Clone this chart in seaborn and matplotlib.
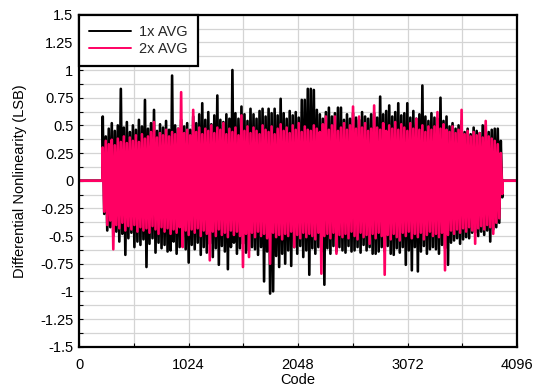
import numpy as np
import pandas as pd
import matplotlib
matplotlib.use("Agg")
import matplotlib.pyplot as plt
import seaborn as sns
from matplotlib.ticker import MultipleLocator, FixedLocator

# ---------------- data ----------------
series_names = ["1x AVG", "2x AVG"]
series_colors = ["#000000", "#FF0063"]

code_first = 222      # first active code
code_step = 28.2      # code spacing between envelope columns
flat_lead_codes = [0, 218]
flat_tail_codes = [3962, 4096]

# 1x AVG: positive and negative excursions per column
black_top = [0.58, 0.40, 0.47, 0.52, 0.45, 0.50, 0.83, 0.48, 0.53, 0.44,
             0.50, 0.46, 0.55, 0.49, 0.73, 0.47, 0.52, 0.64, 0.45, 0.51,
             0.48, 0.54, 0.46, 0.95, 0.50, 0.47, 0.55, 0.49, 0.52, 0.46,
             0.58, 0.52, 0.60, 0.70, 0.55, 0.62, 0.51, 0.59, 0.77, 0.55,
             0.53, 0.60, 0.56, 1.00, 0.61, 0.56, 0.67, 0.60, 0.54, 0.65,
             0.60, 0.56, 0.63, 0.65, 0.58, 0.65, 0.61, 0.65, 0.59, 0.74,
             0.61, 0.56, 0.63, 0.59, 0.62, 0.57, 0.73, 0.73, 0.83, 0.83,
             0.82, 0.64, 0.60, 0.56, 0.62, 0.66, 0.58, 0.61, 0.66, 0.66,
             0.55, 0.60, 0.56, 0.61, 0.57, 0.55, 0.62, 0.58, 0.56, 0.60,
             0.61, 0.57, 0.76, 0.60, 0.63, 0.68, 0.58, 0.62, 0.70, 0.59,
             0.61, 0.70, 0.57, 0.63, 0.56, 0.60, 0.86, 0.58, 0.54, 0.61,
             0.57, 0.56, 0.75, 0.54, 0.58, 0.49, 0.52, 0.47, 0.50, 0.54,
             0.44, 0.47, 0.42, 0.48, 0.45, 0.43, 0.50, 0.50, 0.44, 0.46,
             0.47, 0.47, 0.36]
black_bot = [-0.30, -0.45, -0.42, -0.50, -0.46, -0.55, -0.48, -0.67, -0.52, -0.47,
             -0.60, -0.55, -0.58, -0.53, -0.78, -0.57, -0.52, -0.65, -0.56, -0.61,
             -0.58, -0.64, -0.63, -0.55, -0.66, -0.60, -0.54, -0.62, -0.74, -0.58,
             -0.62, -0.56, -0.67, -0.60, -0.65, -0.57, -0.69, -0.61, -0.76, -0.59,
             -0.64, -0.80, -0.60, -0.56, -0.66, -0.61, -0.57, -0.65, -0.63, -0.60,
             -0.62, -0.67, -0.60, -0.91, -0.64, -1.02, -1.00, -0.68, -0.78, -0.66,
             -0.75, -0.63, -0.77, -0.60, -0.66, -0.59, -0.69, -0.63, -0.85, -0.61,
             -0.66, -0.60, -0.64, -0.94, -0.61, -0.66, -0.59, -0.64, -0.60, -0.63,
             -0.65, -0.59, -0.64, -0.63, -0.60, -0.65, -0.58, -0.63, -0.60, -0.66,
             -0.66, -0.64, -0.60, -0.64, -0.59, -0.66, -0.67, -0.61, -0.65, -0.60,
             -0.76, -0.63, -0.81, -0.60, -0.82, -0.64, -0.59, -0.66, -0.62, -0.60,
             -0.62, -0.66, -0.58, -0.61, -0.76, -0.56, -0.54, -0.52, -0.57, -0.53,
             -0.51, -0.52, -0.47, -0.47, -0.50, -0.46, -0.49, -0.45, -0.55, -0.44,
             -0.42, -0.38, -0.15]

# 2x AVG: positive and negative excursions per column
pink_top = [0.30, 0.36, 0.33, 0.37, 0.32, 0.38, 0.35, 0.40, 0.34, 0.39,
            0.36, 0.41, 0.35, 0.42, 0.38, 0.40, 0.44, 0.53, 0.39, 0.43,
            0.41, 0.46, 0.40, 0.44, 0.42, 0.47, 0.80, 0.43, 0.46, 0.41,
            0.64, 0.44, 0.48, 0.42, 0.47, 0.45, 0.50, 0.43, 0.48, 0.46,
            0.52, 0.42, 0.47, 0.44, 0.48, 0.41, 0.59, 0.45, 0.49, 0.43,
            0.48, 0.45, 0.42, 0.50, 0.46, 0.44, 0.49, 0.42, 0.47, 0.51,
            0.45, 0.48, 0.43, 0.50, 0.46, 0.52, 0.44, 0.49, 0.46, 0.45,
            0.50, 0.47, 0.44, 0.51, 0.58, 0.46, 0.50, 0.58, 0.45, 0.48,
            0.52, 0.46, 0.50, 0.67, 0.47, 0.58, 0.48, 0.52, 0.45, 0.47,
            0.68, 0.48, 0.46, 0.52, 0.45, 0.50, 0.47, 0.53, 0.46, 0.51,
            0.48, 0.45, 0.52, 0.47, 0.56, 0.46, 0.50, 0.44, 0.49, 0.46,
            0.49, 0.62, 0.47, 0.51, 0.46, 0.44, 0.49, 0.43, 0.46, 0.64,
            0.42, 0.45, 0.40, 0.44, 0.41, 0.43, 0.39, 0.54, 0.40, 0.38,
            0.36, 0.33, 0.25]
pink_bot = [-0.28, -0.40, -0.36, -0.62, -0.40, -0.43, -0.38, -0.45, -0.41, -0.44,
            -0.40, -0.46, -0.42, -0.45, -0.43, -0.47, -0.41, -0.44, -0.48, -0.42,
            -0.46, -0.43, -0.48, -0.44, -0.47, -0.42, -0.60, -0.45, -0.49, -0.44,
            -0.47, -0.43, -0.50, -0.45, -0.48, -0.72, -0.46, -0.50, -0.44, -0.49,
            -0.47, -0.51, -0.45, -0.49, -0.46, -0.50, -0.78, -0.48, -0.69, -0.47,
            -0.51, -0.46, -0.50, -0.48, -0.52, -0.75, -0.47, -0.51, -0.49, -0.53,
            -0.48, -0.50, -0.46, -0.60, -0.49, -0.52, -0.47, -0.51, -0.48, -0.50,
            -0.53, -0.47, -0.84, -0.50, -0.48, -0.52, -0.47, -0.66, -0.49, -0.51,
            -0.48, -0.52, -0.46, -0.50, -0.53, -0.47, -0.51, -0.49, -0.57, -0.48,
            -0.52, -0.47, -0.50, -0.85, -0.49, -0.53, -0.48, -0.51, -0.54, -0.47,
            -0.50, -0.46, -0.52, -0.48, -0.51, -0.47, -0.53, -0.49, -0.46, -0.50,
            -0.48, -0.51, -0.47, -0.81, -0.49, -0.45, -0.48, -0.44, -0.47, -0.43,
            -0.46, -0.42, -0.45, -0.57, -0.43, -0.41, -0.44, -0.40, -0.42, -0.48,
            -0.38, -0.34, -0.12]

x_tick_values = [0, 1024, 2048, 3072, 4096]
y_tick_values = [1.5, 1.25, 1, 0.75, 0.5, 0.25, 0, -0.25, -0.5, -0.75, -1, -1.25, -1.5]
y_tick_labels = ["1.5", "1.25", "1", "0.75", "0.5", "0.25", "0", "-0.25", "-0.5",
                 "-0.75", "-1", "-1.25", "-1.5"]


def build(name, top, bot):
    top = np.asarray(top)
    bot = np.asarray(bot)
    n = len(top)
    cols = code_first + code_step * np.arange(n)
    codes = np.column_stack([cols, cols + code_step / 2]).ravel()
    vals = np.column_stack([top, bot]).ravel()
    codes = np.concatenate([flat_lead_codes, codes, flat_tail_codes])
    vals = np.concatenate([[0, 0], vals, [0, 0]])
    return pd.DataFrame({"Code": codes, "DNL": vals, "series": name})


df = pd.concat([build(series_names[0], black_top, black_bot),
                build(series_names[1], pink_top, pink_bot)], ignore_index=True)

# ---------------- figure ----------------
sns.set_theme(style="white")
plt.rcParams["font.family"] = ["Liberation Sans", "DejaVu Sans"]

fig = plt.figure(figsize=(5.36, 3.90), dpi=100)
ax = fig.add_axes([79 / 536, 1 - 346.7 / 390, (517 - 79) / 536, (346.7 - 14.7) / 390])

sns.lineplot(data=df, x="Code", y="DNL", hue="series", hue_order=series_names,
             palette=dict(zip(series_names, series_colors)), estimator=None,
             linewidth=1.9, ax=ax, legend=True)

ax.set_xlim(0, 4096)
ax.set_ylim(-1.5, 1.5)
ax.xaxis.set_major_locator(FixedLocator(x_tick_values))
ax.xaxis.set_minor_locator(MultipleLocator(512))
ax.yaxis.set_major_locator(FixedLocator(y_tick_values))
ax.set_yticklabels(y_tick_labels)
ax.yaxis.set_minor_locator(MultipleLocator(0.125))

ax.grid(True, which="both", color="#d4d4d4", linewidth=0.9)
ax.set_axisbelow(True)

ax.tick_params(axis="both", which="both", direction="in", length=3, width=0.8,
               color="black", labelsize=10.5, labelcolor="black")
ax.tick_params(axis="x", which="major", pad=8)
ax.tick_params(axis="y", which="major", pad=4)
ax.tick_params(left=True, bottom=True, which="both")

for s in ax.spines.values():
    s.set_visible(True)
    s.set_color("black")
    s.set_linewidth(1.6)

ax.set_xlabel("Code", fontsize=10.5, color="black", labelpad=1)
ax.set_ylabel("Differential Nonlinearity (LSB)", fontsize=10.5, color="black")
ax.yaxis.set_label_coords(-0.118, 0.5)

handles, labels = ax.get_legend_handles_labels()
leg = ax.legend(handles, labels, loc="upper left", bbox_to_anchor=(0, 1),
                borderaxespad=0, frameon=True, fancybox=False, fontsize=10.5,
                handlelength=2.85, handletextpad=0.55, labelspacing=0.2,
                borderpad=0.7, markerfirst=True)
leg.get_frame().set_edgecolor("black")
leg.get_frame().set_linewidth(1.6)
leg.get_frame().set_facecolor("white")
leg.get_frame().set_alpha(1)
for h in leg.legend_handles:
    h.set_linewidth(1.4)

fig.savefig("out.png", dpi=100)
